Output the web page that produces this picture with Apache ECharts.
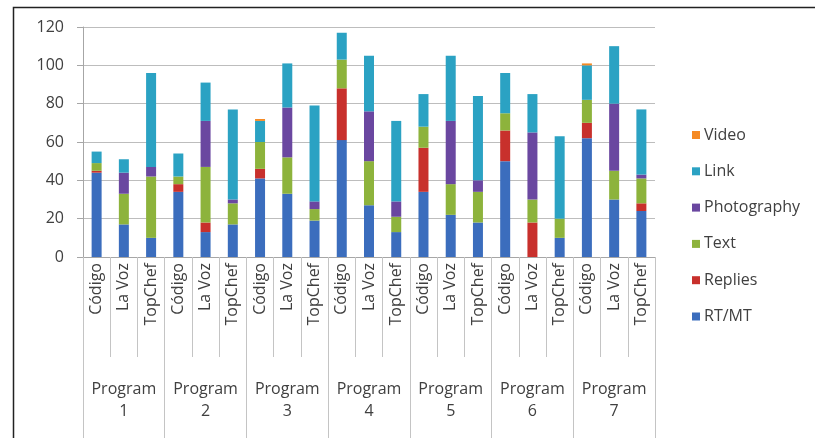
<!DOCTYPE html>
<html>
<head>
<meta charset="utf-8">
<script src="https://cdn.jsdelivr.net/npm/echarts@6/dist/echarts.min.js"></script>
<style>html,body{margin:0;padding:0;background:#fff}#c{width:815px;height:438px}</style>
</head>
<body>
<div id="c"></div>
<script>
const shows = ['Código','La Voz','TopChef'];
const categories = [].concat(shows,shows,shows,shows,shows,shows,shows);
const programs = ['Program\n1','Program\n2','Program\n3','Program\n4','Program\n5','Program\n6','Program\n7'];
const yTicks = [0,20,40,60,80,100,120];

const rtmt        = [44,17,10, 34,13,17, 41,33,19, 61,27,13, 34,22,18, 50,0,10, 62,30,24];
const replies     = [1,0,0,    4,5,0,    5,0,0,    27,0,0,   23,0,0,   16,18,0, 8,0,4];
const text        = [4,16,32,  4,29,11,  14,19,6,  15,23,8,  11,16,16, 9,12,10, 12,15,13];
const photography = [0,11,5,   0,24,2,   0,26,4,   0,26,8,   0,33,6,   0,35,0,  0,35,2];
const link        = [6,7,49,   12,20,47, 11,23,50, 14,29,42, 17,34,44, 21,20,43, 18,30,34];
const video       = [0,0,0,    0,0,0,    1,0,0,    0,0,0,    0,0,0,    0,0,0,   1,0,0];

const seriesNames = ['RT/MT','Replies','Text','Photography','Link','Video'];
const seriesData = [rtmt, replies, text, photography, link, video];
const colors = ['#3b6dbd','#c8302c','#8db33c','#6a47a0','#2ba2c3','#f58a24'];

const font = 'Open Sans';
const txt = '#404040';
const chart = echarts.init(document.getElementById('c'), null, {renderer:'canvas'});
chart.setOption({
  animation: false,
  textStyle: {fontFamily: font},
  grid: {left: 83, right: 160, top: 27, bottom: 181, containLabel: false},
  legend: {
    orient: 'vertical', left: 687, top: 122,
    data: ['Video','Link','Photography','Text','Replies','RT/MT'],
    icon: 'rect', itemWidth: 8, itemHeight: 8, itemGap: 20.3,
    textStyle: {fontFamily: font, fontSize: 16, color: txt, lineHeight: 16, padding:[0,0,0,-1]}
  },
  xAxis: [{
    type: 'category', data: categories, position: 'bottom',
    axisLine: {show: true, lineStyle: {color: '#a6a6a6'}},
    axisTick: {show: true, interval: 0, length: 100, lineStyle: {color: '#c4c4c4'}},
    axisLabel: {interval: 0, rotate: 90, margin: 6, fontFamily: font, fontSize: 16, color: txt},
    splitLine: {show: false}
  },{
    type: 'category', data: programs, position: 'bottom',
    axisLine: {show: false},
    axisTick: {show: true, interval: 0, length: 182, lineStyle: {color: '#c4c4c4'}},
    axisLabel: {interval: 0, margin: 121, fontFamily: font, fontSize: 16, lineHeight: 22, color: txt},
    splitLine: {show: false}
  }],
  yAxis: {
    type: 'value', min: yTicks[0], max: yTicks[yTicks.length-1], interval: 20,
    axisLine: {show: true, lineStyle: {color: '#a6a6a6'}},
    axisTick: {show: true, length: 6, lineStyle: {color: '#a6a6a6'}},
    axisLabel: {margin: 19, fontFamily: font, fontSize: 16, color: txt},
    splitLine: {show: true, lineStyle: {color: '#bdbdbd'}}
  },
  series: seriesNames.map((n,i) => ({
    name: n, type: 'bar', stack: 'all', xAxisIndex: 0,
    barWidth: 10, data: seriesData[i],
    itemStyle: {color: colors[i]}
  })),
  graphic: [{
    type: 'rect', left: 11, top: 5, silent: true,
    shape: {width: 830, height: 460},
    style: {fill: 'none', stroke: '#222', lineWidth: 1.5}
  }]
});
</script>
</body>
</html>
